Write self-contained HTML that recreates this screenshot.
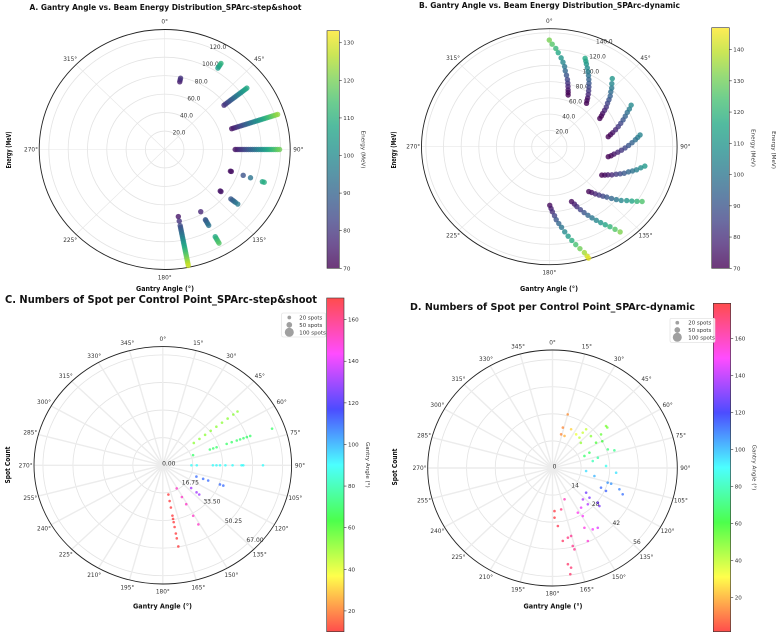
<!DOCTYPE html>
<html><head><meta charset="utf-8">
<style>
html,body{margin:0;padding:0;background:#fff;}
svg{display:block;font-family:"DejaVu Sans","Liberation Sans",sans-serif;}
</style></head>
<body>
<svg id="fig" width="776" height="634" viewBox="0 0 776 634" xmlns="http://www.w3.org/2000/svg">
  <defs>
    <linearGradient id="gViridis" x1="0" y1="1" x2="0" y2="0">
      <stop offset="0" stop-color="#440154"/><stop offset="0.1" stop-color="#482475"/><stop offset="0.2" stop-color="#414487"/><stop offset="0.3" stop-color="#355f8d"/><stop offset="0.4" stop-color="#2a788e"/><stop offset="0.5" stop-color="#21918c"/><stop offset="0.6" stop-color="#22a884"/><stop offset="0.7" stop-color="#44bf70"/><stop offset="0.8" stop-color="#7ad151"/><stop offset="0.9" stop-color="#bddf26"/><stop offset="1" stop-color="#fde725"/>
    </linearGradient>
    <linearGradient id="gRainbow" x1="0" y1="1" x2="0" y2="0">
      <stop offset="0" stop-color="#ff0000"/><stop offset="0.167" stop-color="#ffff00"/><stop offset="0.333" stop-color="#00ff00"/><stop offset="0.5" stop-color="#00ffff"/><stop offset="0.667" stop-color="#0000ff"/><stop offset="0.833" stop-color="#ff00ff"/><stop offset="1" stop-color="#ff0000"/>
    </linearGradient>
  </defs>
  <g id="layer"></g>
</svg>
<script>
// ---------- Panel A data ----------
const aSegAngles = [12, 32, 52, 72, 90, 109, 128, 151, 169];
const aSegEnergies = [
  [75,77,79],
  [104,106,108,110],
  [78,80,82,84,86,88,90,92,94,96,98,100,102,104,106,108],
  [73,75,77,79,81,83,85,87,89,91,93,95,97,99,101,103,105,107,109,111,113,115,117,119,121,123],
  [73,75,77,79,81,83,85,87,89,91,93,95,97,99,101,103,105,107,109,111,113,115,117,119],
  [72,73,86,94,107,109],
  [73,74,87,89,91,93,96],
  [77,87,88,90,92,94,108,110,112,114,116],
  [74,79,84,86,88,90,92,94,96,98,100,102,104,106,108,110,112,114,116,118,120,122,124,126,128]
];
const aRTicks = [20,40,60,80,100,120];
const aCbarTicks = [70,80,90,100,110,120,130];
// ---------- Panel B data ----------
const bSegAngles = [
  [18.6,17.8,17,16,15,14,12.5,11,10,8.5,7,5,3.5,1.5,0],
  [38.4,37,36,34.5,33,31.5,30,28.5,27,25.5,24,22.5,21.5,20.5],
  [58.8,57.5,56,54.5,53,51,49.5,48,46,44.5,42.5,40.5],
  [79.6,78,76.5,74.5,72.5,70.5,68.5,66.5,64.5,63,61.2],
  [100.4,99,97,95,93,91,89,87,85,83.5,82],
  [120.4,119,117.5,116,114,112.5,111,109,107.5,106,104,102.4],
  [140.9,139.5,138,136.5,135,133.5,132,130.5,129,127,125.5,124,122.6],
  [159.5,158,157,155.5,154,152.5,151,149.5,148,146.5,145,143.7,142.5],
  [179.6,178.5,177.5,176,175,173.5,172,170.5,169,167.5,166,164.5,163,162.3,162]
];
const bSegEnergies = [
  [67,70,73,77,81,85,90,95,100,105,110,116,121,126,131],
  [68,71,74,78,82,86,90,94,98,102,106,110,113,116],
  [67,70,73,77,81,85,89,93,97,101,105,110],
  [68,71,74,78,82,86,90,94,98,102,106],
  [68,71,74,78,82,86,90,94,98,101,104],
  [69,72,75,79,83,87,91,95,99,103,107,111],
  [71,74,78,82,86,90,95,100,105,110,115,120,125],
  [72,76,80,85,90,95,100,105,110,115,120,126,132],
  [72,76,80,85,90,95,100,106,112,118,124,130,136,141,144]
];
const bRTicks = [20,40,60,80,100,120,140];
const bCbarTicks = [70,80,90,100,110,120,130,140];
// ---------- Panel C data ----------
const cSegAngles = [52, 70, 90, 110, 131, 151, 170];
const cSegCounts = [
  [22,26,30,34,38,42,46,50,53],
  [18,28,30,32,38,41,44,46,48,50,52,65],
  [16,19,28,30,32,35,39,44,45,56],
  [20,24,27,34,36],
  [21,25,27],
  [16,22,27,35,41],
  [18,22,26,31,33,35,38,42,45,50]
];
const cRTicks = [0,16.75,33.5,50.25,67];
const cRTickLabels = ["0.00","16.75","33.50","50.25","67.00"];
const cCbarTicks = [20,40,60,80,100,120,140,160];
// ---------- Panel D data ----------
const dAngles = [15,13.6,13.6,19.5,24.4,33.6,40,39,39.4,48.7,46.8,50.3,52,53.8,60.4,58.4,70.4,73.2,66.3,68.3,76.5,79.6,87.7,94.5,101.4,95.4,105.7,105.8,108.6,111.6,113.2,114.4,127.8,137.5,137.4,129,130.6,130.3,145.7,151.8,149.2,153.2,148.2,144.4,155.4,165.5,168.2,172.4,166.2,177.5,177.8,175,160,165.7,171.4,170,171,168.8];
const dCounts = [28.7,21.5,17.9,17.6,22,20.9,20.5,23.5,25.9,25,19,34,34,29.4,28,25,28.7,31.6,19.7,16.8,22.8,20,26.2,31.2,20.9,16.5,28,29.8,34.5,36.9,25.8,28.7,20.8,22,25.5,28.5,30.2,23.7,24.8,26.2,28.9,34.6,37.3,38,41.5,36.3,36.8,38,41.5,22.3,25.7,30.1,17.2,43.4,50.3,52.3,55.6,21.8];
const dRTicks = [0,14,28,42,56];
const dRTickLabels = ["0","14","28","42","56"];
const dCbarTicks = [20,40,60,80,100,120,140,160];
const legendSizes = [20,50,100];

// ---------- helpers ----------
const NS = "http://www.w3.org/2000/svg";
const layer = document.getElementById('layer');
function mk(tag, attrs, parent){
  const e = document.createElementNS(NS, tag);
  for (const k in attrs) e.setAttribute(k, attrs[k]);
  (parent||layer).appendChild(e);
  return e;
}
function txt(s, attrs, parent){ const t = mk('text', attrs, parent); t.textContent = s; return t; }
function hexToRgb(h){ return [parseInt(h.substr(1,2),16),parseInt(h.substr(3,2),16),parseInt(h.substr(5,2),16)]; }
const VIR = [["#440154",0],["#482475",.1],["#414487",.2],["#355f8d",.3],["#2a788e",.4],["#21918c",.5],["#22a884",.6],["#44bf70",.7],["#7ad151",.8],["#bddf26",.9],["#fde725",1]];
const RAIN = [["#ff0000",0],["#ffff00",.167],["#00ff00",.333],["#00ffff",.5],["#0000ff",.667],["#ff00ff",.833],["#ff0000",1]];
function cmap(stops, t){
  t = Math.max(0, Math.min(1, t));
  for (let i=1;i<stops.length;i++){
    if (t <= stops[i][1]){
      const a = hexToRgb(stops[i-1][0]), b = hexToRgb(stops[i][0]);
      const f = (t - stops[i-1][1])/(stops[i][1]-stops[i-1][1] || 1);
      return 'rgb('+a.map((v,j)=>Math.round(v+(b[j]-v)*f)).join(',')+')';
    }
  }
  return stops[stops.length-1][0];
}
function pos(p, ang, r){
  const a = ang*Math.PI/180, f = r/p.rmax;
  return [p.cx + p.rx*f*Math.sin(a), p.cy - p.ry*f*Math.cos(a)];
}

const PA = {cx:164.7, cy:149.5, rx:125.5, ry:120, rmax:130};
const PB = {cx:549.3, cy:146.7, rx:127.8, ry:118, rmax:145};
const PC = {cx:162.8, cy:465.3, rx:128.8, ry:118.7, rmax:72};
const PD = {cx:552.5, cy:468, rx:124.8, ry:118, rmax:61};

function drawPolarFrame(p, name, spokeStep, rTicks, spokeW, spokeColor){
  const g = mk('g', {});
  
  
  for (const r of rTicks){
    if (r <= 0) continue;
    const c = mk('ellipse', {cx:p.cx, cy:p.cy, rx:p.rx*r/p.rmax, ry:p.ry*r/p.rmax, fill:'none', stroke:'#e3e3e3', 'stroke-width':0.8}, g);
    
    
  }
  for (let a=0; a<360; a+=spokeStep){
    const e = pos(p, a, p.rmax);
    const l = mk('line', {x1:p.cx, y1:p.cy, x2:e[0], y2:e[1], stroke:spokeColor, 'stroke-width':spokeW}, g);
    
    
  }
  const o = mk('ellipse', {cx:p.cx, cy:p.cy, rx:p.rx, ry:p.ry, fill:'none', stroke:'#222', 'stroke-width':0.9});
  
  
  for (let a=0; a<360; a+=spokeStep){
    const t = pos(p, a, p.rmax*1.065);
    const lab = txt(a+'°', {x:t[0], y:t[1]+2, 'font-size':5.8, fill:'#333', 'text-anchor':'middle'});
    
    
  }
}

function drawColorbar(x, y0, y1, w, grad, vmin, vmax, ticks, label, name, op){
  const g = mk('g', {});
  
  
  mk('rect', {x:x, y:y0, width:w, height:y1-y0, fill:'url(#'+grad+')', opacity:op}, g);
  mk('rect', {x:x, y:y0, width:w, height:y1-y0, fill:'none', stroke:'#333', 'stroke-width':0.6}, g);
  for (const v of ticks){
    const y = y1 - (v - vmin)/(vmax - vmin)*(y1-y0);
    mk('line', {x1:x+w, y1:y, x2:x+w+2.5, y2:y, stroke:'#333', 'stroke-width':0.6}, g);
    const t = txt(String(v), {x:x+w+4, y:y+2, 'font-size':5.6, fill:'#333'}, g);
    
    
  }
  const lx = x + w + 22, ly = (y0+y1)/2;
  const lab = txt(label, {x:lx, y:ly, 'font-size':5.6, fill:'#333', 'text-anchor':'middle', transform:'rotate(90 '+lx+' '+ly+')'}, g);
  
  
}

function title(s, x, y, size, len, name){
  const t = txt(s, {x:x, y:y, 'font-size':size, 'font-weight':'bold', fill:'#111', 'text-anchor':'middle', textLength:len, lengthAdjust:'spacingAndGlyphs'});
  
  
}
function axLabel(s, x, y, rot, len, name){
  const attrs = {x:x, y:y, 'font-size':6.6, 'font-weight':'bold', fill:'#111', 'text-anchor':'middle', textLength:len, lengthAdjust:'spacingAndGlyphs'};
  if (rot) attrs.transform = 'rotate(-90 '+x+' '+y+')';
  const t = txt(s, attrs);
  
  
}

// ================= Panel A =================
drawPolarFrame(PA, 'panel-a', 45, aRTicks, 0.6, '#e6e6e6');
for (const r of aRTicks){
  const q = pos(PA, 22.5, r);
  const t = txt(r.toFixed(1), {x:q[0]+0.5, y:q[1]+2, 'font-size':5.8, fill:'#333'});
  
  
}
{
  const g = mk('g', {});
  
  
  aSegAngles.forEach((ang, i) => {
    aSegEnergies[i].forEach(E => {
      const q = pos(PA, ang, E);
      const c = mk('circle', {cx:q[0], cy:q[1], r:2.7, fill:cmap(VIR, (E-70)/(133.2-70)), 'fill-opacity':0.8}, g);
      
      
    });
  });
}
drawColorbar(327, 30.7, 268.3, 12.3, 'gViridis', 70, 133.2, aCbarTicks, 'Energy (MeV)', 'panel-a-colorbar', 0.78);
title('A. Gantry Angle vs. Beam Energy Distribution_SPArc-step&shoot', 165.5, 10, 8, 272, 'panel-a-title');
axLabel('Gantry Angle (°)', 165, 291, false, 58, 'panel-a-x-axis-title');
axLabel('Energy (MeV)', 11, 150, true, 37, 'panel-a-y-axis-title');

// ================= Panel B =================
drawPolarFrame(PB, 'panel-b', 45, bRTicks, 0.6, '#e6e6e6');
for (const r of bRTicks){
  const q = pos(PB, 22.5, r);
  const t = txt(r.toFixed(1), {x:q[0]-0.5, y:q[1]+2, 'font-size':5.8, fill:'#333'});
  
  
}
{
  const g = mk('g', {});
  
  
  bSegAngles.forEach((angs, i) => {
    angs.forEach((ang, j) => {
      const E = bSegEnergies[i][j];
      const q = pos(PB, ang, E);
      const c = mk('circle', {cx:q[0], cy:q[1], r:2.7, fill:cmap(VIR, (E-70)/(147-70)), 'fill-opacity':0.8}, g);
      
      
    });
  });
}
drawColorbar(711.7, 27.7, 268.3, 17.6, 'gViridis', 70, 147, bCbarTicks, 'Energy (MeV)', 'panel-b-colorbar', 0.78);
{
  const lx = 772, ly = 150;
  const t = txt('Energy (MeV)', {x:lx, y:ly, 'font-size':5.6, fill:'#333', 'text-anchor':'middle', transform:'rotate(90 '+lx+' '+ly+')'});
  
  
}
title('B. Gantry Angle vs. Beam Energy Distribution_SPArc-dynamic', 549.5, 8, 8, 261, 'panel-b-title');
axLabel('Gantry Angle (°)', 549, 291, false, 58, 'panel-b-x-axis-title');
axLabel('Energy (MeV)', 396, 150, true, 37, 'panel-b-y-axis-title');

// ================= Panel C =================
drawPolarFrame(PC, 'panel-c', 15, cRTicks, 1.4, '#ececec');
cRTicks.forEach((r, i) => {
  const q = pos(PC, 134, r);
  const t = txt(cRTickLabels[i], {x:q[0]+6, y:q[1]+0, 'font-size':6, fill:'#333', 'text-anchor':'middle'});
  
  
});
{
  const g = mk('g', {});
  
  
  cSegAngles.forEach((ang, i) => {
    cSegCounts[i].forEach(n => {
      const q = pos(PC, ang, n);
      const c = mk('circle', {cx:q[0], cy:q[1], r:1.3, fill:cmap(RAIN, (ang-10)/(170.4-10)), 'fill-opacity':0.6}, g);
      
      
    });
  });
}
drawColorbar(326.7, 298, 631.7, 17.3, 'gRainbow', 10, 170.4, cCbarTicks, 'Gantry Angle (°)', 'panel-c-colorbar', 0.7);
title('C. Numbers of Spot per Control Point_SPArc-step&shoot', 161, 303, 10.5, 312, 'panel-c-title');
axLabel('Gantry Angle (°)', 162.5, 608.5, false, 59, 'panel-c-x-axis-title');
axLabel('Spot Count', 10, 465, true, 37, 'panel-c-y-axis-title');

// ================= Panel D =================
drawPolarFrame(PD, 'panel-d', 15, dRTicks, 1.4, '#ececec');
dRTicks.forEach((r, i) => {
  const q = pos(PD, 134, r);
  const t = txt(dRTickLabels[i], {x:q[0]+2, y:q[1]+0.5, 'font-size':6, fill:'#333', 'text-anchor':'middle'});
  
  
});
{
  const g = mk('g', {});
  
  
  dAngles.forEach((ang, i) => {
    const q = pos(PD, ang, dCounts[i]);
    const c = mk('circle', {cx:q[0], cy:q[1], r:1.3, fill:cmap(RAIN, (ang-1.6)/(179-1.6)), 'fill-opacity':0.6}, g);
    
    
  });
}
drawColorbar(713.3, 303.3, 631.7, 17.4, 'gRainbow', 1.6, 179, dCbarTicks, 'Gantry Angle (°)', 'panel-d-colorbar', 0.7);
title('D. Numbers of Spot per Control Point_SPArc-dynamic', 552.5, 310, 10, 285, 'panel-d-title');
axLabel('Gantry Angle (°)', 553, 608.5, false, 59, 'panel-d-x-axis-title');
axLabel('Spot Count', 397, 467, true, 37, 'panel-d-y-axis-title');

// ================= Legends =================
function legend(x, y, w, h, ex, ey, tx, dy, name){
  const g = mk('g', {});
  
  
  mk('rect', {x:x, y:y, width:w, height:h, rx:1.5, fill:'#fff', 'fill-opacity':0.85, stroke:'#ddd', 'stroke-width':0.6}, g);
  legendSizes.forEach((s, i) => {
    const c = mk('circle', {cx:ex, cy:ey+i*dy, r:1.2+s*0.033, fill:'#888', 'fill-opacity':0.8}, g);
    
    
    const t = txt(s+' spots', {x:tx, y:ey+i*dy+2, 'font-size':5.4, fill:'#333'}, g);
    
    
  });
}
legend(281.7, 313, 44, 24, 289.3, 317.5, 299.3, 7.4, 'panel-c-legend');
legend(670, 318.3, 45, 24, 677.3, 322.7, 688.3, 7.3, 'panel-d-legend');
</script>
</body></html>
